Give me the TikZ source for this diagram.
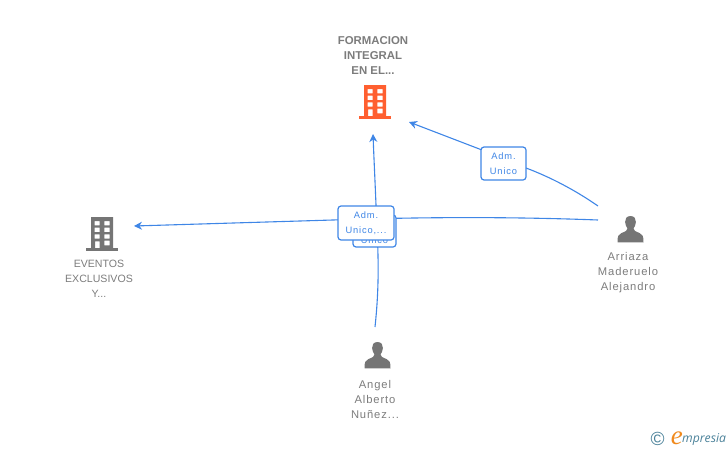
\documentclass[tikz,border=0pt]{standalone}
\usetikzlibrary{arrows.meta}
\usepackage{fontspec}
\setmainfont{Liberation Sans}
\newfontfamily\lblfont[LetterSpace=9]{Liberation Sans}
\newfontfamily\persfont[LetterSpace=8]{Liberation Sans}
\newfontfamily\logofont[ItalicFont=*-Italic]{Open Sans}
\newfontfamily\logoe{Liberation Serif}
\definecolor{txtgray}{HTML}{7C7C7C}
\definecolor{iconorange}{HTML}{FF5F30}
\definecolor{icongray}{HTML}{757575}
\definecolor{linkblue}{HTML}{3F86E6}
\definecolor{logoteal}{HTML}{4A8199}
\definecolor{logoorange}{HTML}{F08A1E}
\tikzset{
  conn/.style={draw=linkblue,line width=1.1pt,-{Stealth[length=8pt,width=8pt]}},
  badge/.style={draw=linkblue,line width=1.2pt,rounded corners=3pt,fill=white,inner sep=0pt,align=center,text=linkblue,font=\lblfont\fontsize{9.3}{15}\selectfont},
  entlabel/.style={align=center,text=txtgray,inner sep=0pt,font=\fontsize{10.6}{15}\selectfont},
  boldlabel/.style={entlabel,font=\bfseries\fontsize{11.4}{15}\selectfont},
  perslabel/.style={align=center,text=txtgray,inner sep=0pt,font=\persfont\fontsize{11.2}{15}\selectfont},
  pics/building/.style={code={
    \fill[#1,even odd rule]
      (0,0) rectangle (22,31)
      (3.7,4) rectangle (8.7,8.3) (13.3,4) rectangle (18.7,8.3)
      (3.7,10.7) rectangle (8.7,15) (13.3,10.7) rectangle (18.7,15)
      (3.7,17.3) rectangle (8.7,21.7) (13.3,17.3) rectangle (18.7,21.7)
      (4,24.3) rectangle (8.7,31) (13.3,23.7) rectangle (18.7,28.3);
    \fill[#1] (-5,31) rectangle (27,34);
  }},
  pics/person/.style={code={
    \fill[icongray] (0,-7) .. controls (-4,-7) and (-5.6,-4) .. (-5.4,-1)
      .. controls (-5.3,2) and (-4,4) .. (-3,5.5)
      .. controls (-3,7.5) and (-5,8.5) .. (-9,10)
      .. controls (-12,11) and (-13,13) .. (-13,19.3)
      -- (13,19.3)
      .. controls (13,13) and (12,11) .. (9,10)
      .. controls (5,8.5) and (3,7.5) .. (3,5.5)
      .. controls (4,4) and (5.3,2) .. (5.4,-1)
      .. controls (5.6,-4) and (4,-7) .. (0,-7) -- cycle;
  }}
}
\begin{document}
\begin{tikzpicture}[x=1pt,y=-1pt]
\useasboundingbox (0,0) rectangle (728,450);
% anchors
\coordinate (formin) at (373,134);
\coordinate (formin2) at (409,122);
\coordinate (evin) at (134,226);
\coordinate (arr1) at (598,206);
\coordinate (arr2) at (598,220);
\coordinate (ang) at (375,327);
\coordinate (jointev) at (366,219);
% connectors
\draw[conn] (arr1) .. controls (575,190) and (550,177) .. (526,168) -- (482,150) -- (formin2);
\draw[conn] (arr2) .. controls (520,217) and (440,217) .. (jointev) .. controls (300,221) and (200,224) .. (evin);
\draw[conn] (ang) .. controls (380,280) and (378,250) .. (376,205) .. controls (375,180) and (374,160) .. (formin);
% badges
\node[badge,minimum width=43pt,minimum height=32pt] (badgeb) at (374.5,231) {\phantom{Adm.}\\\raisebox{-2.5pt}{Unico}};
\node[badge,minimum width=56pt,minimum height=34pt] (badgea) at (366,223) {Adm.\\Unico,...};
\node[badge,minimum width=45pt,minimum height=33pt] (badgec) at (503.5,163.5) {Adm.\\Unico};
% icons
\pic at (364,85) {building=iconorange};
\pic at (91,217) {building=icongray};
\pic at (630.5,223) {person};
\pic at (377.5,349) {person};
% labels
\node[boldlabel] (formacion) at (373,55.5) {FORMACION\\INTEGRAL\\EN EL...};
\node[entlabel] (eventos) at (99,278.5) {EVENTOS\\EXCLUSIVOS\\Y...};
\node[perslabel] (arriaza) at (628,273) {Arriaza\\Maderuelo\\Alejandro};
\node[perslabel] (angel) at (375,399) {Angel\\Alberto\\Nuñez...};
% logo
\node[text=logoteal,inner sep=0pt,font=\fontsize{19}{19}\selectfont] (copy) at (657.5,438.5) {©};
\node[text=logoteal,inner sep=0pt,anchor=base west,font=\logofont\itshape\fontsize{12.2}{12}\selectfont] (mark) at (682,442.5) {mpresia};
\node[text=logoorange,inner sep=0pt,anchor=base east,font=\logoe\itshape\fontsize{27}{27}\selectfont] (markE) at (683,444) {e};
\end{tikzpicture}
\end{document}
